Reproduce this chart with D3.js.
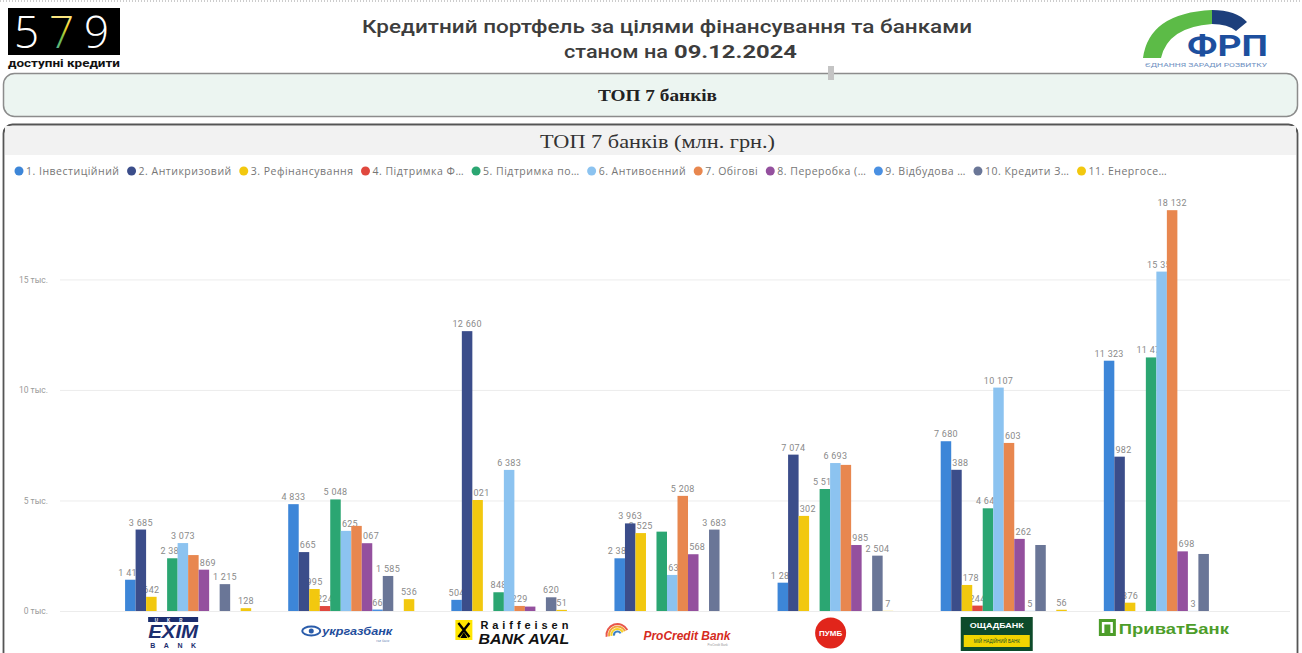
<!DOCTYPE html>
<html><head><meta charset="utf-8">
<script src="https://cdn.jsdelivr.net/npm/d3@7"></script>
<style>html,body{margin:0;padding:0;background:#fff;} svg{display:block;font-family:"Open Sans",Roboto,sans-serif}</style>
</head><body>
<svg id="c" width="1302" height="653"></svg>
<script>
// ---------- DATA ----------
const banks = ["Укрексімбанк","Укргазбанк","Райффайзен Банк Аваль","ПроКредит Банк","ПУМБ","Ощадбанк","ПриватБанк"];
const seriesNames = ["1. Інвестиційний","2. Антикризовий","3. Рефінансування","4. Підтримка Ф…","5. Підтримка по…","6. Антивоєнний","7. Обігові","8. Переробка (…","9. Відбудова …","10. Кредити З…","11. Енергосе…","12."];
const s1  = [1415, 4833,   504, 2384, 1281,  7680, 11323];
const s2  = [3685, 2665, 12660, 3963, 7074,  6388,  6982];
const s3  = [ 642,  995,  5021, 3525, 4302,  1178,   376];
const s4  = [null,  224,  null, null, null,   244,  null];
const s5  = [2385, 5048,   848, 3590, 5519,  4646, 11471];
const s6  = [3073, 3625,  6383, 1631, 6693, 10107, 15354];
const s7  = [2530, 3850,   229, 5208, 6610,  7603, 18132];
const s8  = [1869, 3067,   200, 2568, 2985,  3262,  2698];
const s9  = [null,   66,  null, null, null,     5,     3];
const s10 = [1215, 1585,   620, 3683, 2504,  2986,  2580];
const s11 = [null, null,    51, null,    7,  null,  null];
const s12 = [ 128,  536,  null, null, null,    56,  null];
const seriesValues = [s1,s2,s3,s4,s5,s6,s7,s8,s9,s10,s11,s12];
const seriesColors = ["#3d86d8","#3b4d8a","#f2c80f","#e0483e","#2ba672","#8cc3f0","#e8874f","#94509e","#4a90e2","#6a7697","#f2c80f","#f2c80f"];
const legendCount = 11;
const yTicks = [0, 5000, 10000, 15000];
const hiddenLabels = [[0,6],[1,6],[2,7],[3,4],[4,6],[5,9],[6,9]]; // [bank, series] labels suppressed by overlap

// ---------- SETUP ----------
const svg = d3.select("#c");
const W = 1302, H = 653;

svg.append("line").attr("x1",0).attr("x2",W).attr("y1",1).attr("y2",1)
  .attr("stroke","#9a9a9a").attr("stroke-dasharray","1,2");

// ---- 579 logo ----
const lg = svg.append("g");
lg.append("rect").attr("x",8).attr("y",8).attr("width",112).attr("height",47).attr("fill","#000");
const grad = svg.append("defs").append("linearGradient").attr("id","g7").attr("x1","0").attr("y1","0").attr("x2","0").attr("y2","1");
grad.append("stop").attr("offset","0").attr("stop-color","#ffffff");
grad.append("stop").attr("offset","0.45").attr("stop-color","#f5d327");
grad.append("stop").attr("offset","0.6").attr("stop-color","#7ac143");
grad.append("stop").attr("offset","1").attr("stop-color","#2aa7df");
[["5",14,"#fff"],["7",49,"url(#g7)"],["9",84,"#fff"]].forEach(([t,xx,f])=>{
  lg.append("text").attr("x",xx).attr("y",48).attr("font-size",44).attr("font-weight",300)
    .attr("font-family","Open Sans").attr("fill",f).text(t);
});
lg.append("text").attr("x",8).attr("y",67).attr("font-size",10).attr("font-weight",700)
  .attr("font-family","Roboto").attr("fill","#111").attr("textLength",112).attr("lengthAdjust","spacingAndGlyphs")
  .text("доступні кредити");

// ---- title ----
svg.append("text").attr("x",362).attr("y",33).attr("font-size",18).attr("font-weight",500)
  .attr("font-family","Roboto").attr("fill","#3d3d3d").attr("textLength",610).attr("lengthAdjust","spacingAndGlyphs")
  .text("Кредитний портфель за цілями фінансування та банками");
svg.append("text").attr("x",564).attr("y",58).attr("font-size",18).attr("font-weight",500)
  .attr("font-family","Roboto").attr("fill","#3d3d3d").attr("textLength",104).attr("lengthAdjust","spacingAndGlyphs")
  .text("станом на");
svg.append("text").attr("x",674).attr("y",58).attr("font-size",18).attr("font-weight",700)
  .attr("font-family","Roboto").attr("fill","#3d3d3d").attr("textLength",123).attr("lengthAdjust","spacingAndGlyphs")
  .text("09.12.2024");

// ---- FRP logo ----
const fg = svg.append("g");
fg.append("path").attr("d","M1143,58 Q1149,13 1212,10 L1212,24 Q1168,27 1161,58 Z").attr("fill","#5cbb47");
fg.append("path").attr("d","M1212,10 Q1236,10 1247,22 L1236,31 Q1228,24 1212,24 Z").attr("fill","#1d3f7c");
fg.append("text").attr("x",1187).attr("y",56).attr("font-size",29).attr("font-weight",700)
  .attr("font-family","Roboto").attr("fill","#1d4f9e").attr("textLength",81).attr("lengthAdjust","spacingAndGlyphs").text("ФРП");
fg.append("text").attr("x",1145).attr("y",67).attr("font-size",5)
  .attr("font-family","Roboto").attr("fill","#6d8fbf").attr("textLength",122).attr("lengthAdjust","spacingAndGlyphs")
  .text("ЄДНАННЯ ЗАРАДИ РОЗВИТКУ");

// ---- top box ----
svg.append("rect").attr("x",3.5).attr("y",73.5).attr("width",1294).attr("height",43).attr("rx",11)
  .attr("fill","#ecf5f1").attr("stroke","#8c8c8c").attr("stroke-width",1.5);
svg.append("rect").attr("x",828).attr("y",66).attr("width",6).attr("height",14).attr("fill","#c4c4c4");
svg.append("text").attr("x",598).attr("y",101).attr("font-size",17).attr("font-weight",700)
  .attr("font-family","Liberation Serif").attr("fill","#222").attr("textLength",119).attr("lengthAdjust","spacingAndGlyphs")
  .text("ТОП 7 банків");

// ---- chart card ----
svg.append("rect").attr("x",3.5).attr("y",124.5).attr("width",1294).attr("height",560).attr("rx",9)
  .attr("fill","#fff").attr("stroke","#555").attr("stroke-width",1.8);
svg.append("rect").attr("x",5).attr("y",126).attr("width",1291).attr("height",29).attr("fill","#f2f2f2");
svg.append("text").attr("x",540).attr("y",148).attr("font-size",19)
  .attr("font-family","Liberation Serif").attr("fill","#333").attr("textLength",235).attr("lengthAdjust","spacingAndGlyphs")
  .text("ТОП 7 банків (млн. грн.)");

// ---- legend ----
const leg = svg.append("g").attr("transform","translate(0,171)");
let lx = 19;
seriesNames.slice(0, legendCount).forEach((n,i)=>{
  leg.append("circle").attr("cx",lx).attr("cy",0).attr("r",4.5).attr("fill",seriesColors[i]);
  const t = leg.append("text").attr("x",lx+7).attr("y",0).attr("dy","0.35em").attr("font-size",10.5)
    .attr("letter-spacing",0.5).attr("font-family","Open Sans").attr("fill","#767676").text(n);
  lx = lx + 7 + t.node().getComputedTextLength() + 12;
});

// ---- scales ----
const x0 = d3.scaleBand().domain(banks).range([106,1249]).paddingInner(0.227).paddingOuter(0.117);
const slots = seriesNames.map((d,i)=>i);
const x1 = d3.scaleBand().domain(slots).range([0, x0.bandwidth()]).padding(0);
const y = d3.scaleLinear().domain([0,19000]).range([611,191]);

// y axis + grid
const yAxis = d3.axisLeft(y).tickValues(yTicks).tickSize(-(1290-60)).tickPadding(12)
  .tickFormat(d => (d/1000) + " тыс.");
const ya = svg.append("g").attr("transform","translate(60,0)").call(yAxis);
ya.select(".domain").remove();
ya.selectAll(".tick line").attr("stroke","#ececec");
ya.selectAll(".tick text").attr("fill","#9a9a9a").attr("font-size",8.5).attr("font-family","Roboto");

// ---- data rows ----
const rows = [];
banks.forEach((b,bi)=>{
  seriesValues.forEach((arr,si)=>{
    const v = arr[bi];
    if (v == null) return;
    rows.push({bank:b, bi, si, v,
      hidden: hiddenLabels.some(h=>h[0]===bi && h[1]===si)});
  });
});
const fmt = v => d3.format(",")(v).replace(/,/g, "\u00a0");

// labels first (bars drawn over them, as in the reference)
svg.append("g").selectAll("text").data(rows.filter(r=>!r.hidden)).join("text")
  .attr("x", r => x0(r.bank) + x1(r.si) + x1.bandwidth()/2)
  .attr("y", r => y(r.v) - 4)
  .attr("text-anchor","middle").attr("font-size",9).attr("font-family","Roboto")
  .attr("letter-spacing",0.3).attr("fill","#8a8a8a")
  .text(r => fmt(r.v));

svg.append("g").selectAll("rect").data(rows).join("rect")
  .attr("x", r => x0(r.bank) + x1(r.si))
  .attr("width", x1.bandwidth())
  .attr("y", r => y(r.v))
  .attr("height", r => y(0) - y(r.v))
  .attr("fill", r => seriesColors[r.si]);

// ---- x axis with bank logos ----
const xAxis = d3.axisBottom(x0).tickSize(0).tickFormat("");
const xa = svg.append("g").attr("transform","translate(0,611)").call(xAxis);
xa.select(".domain").remove();
xa.attr("text-anchor","start").attr("font-family",null).attr("font-size",null);

const logos = {
  "Укрексімбанк": (g)=>{ const cx=-15;
    g.append("rect").attr("x",cx-25).attr("y",6).attr("width",50).attr("height",5).attr("fill","#1c2e6e");
    g.append("text").attr("x",cx).attr("y",10.5).attr("text-anchor","middle").attr("font-size",4.5).attr("font-weight",700)
      .attr("font-family","Liberation Sans").attr("fill","#fff").attr("letter-spacing",9).text("UKR");
    g.append("text").attr("x",cx-25).attr("y",27).attr("font-size",19).attr("font-weight",700).attr("font-style","italic")
      .attr("font-family","Liberation Sans").attr("fill","#1c2e6e").attr("textLength",50).attr("lengthAdjust","spacingAndGlyphs").text("EXIM");
    g.append("text").attr("x",cx-23).attr("y",37).attr("font-size",7).attr("font-weight",700)
      .attr("font-family","Liberation Sans").attr("fill","#1c2e6e").attr("textLength",46).attr("lengthAdjust","spacing").text("BANK");
  },
  "Укргазбанк": (g)=>{ const cx=-5;
    g.append("ellipse").attr("cx",cx-35).attr("cy",20).attr("rx",9).attr("ry",4.5).attr("fill","none").attr("stroke","#2a5caa").attr("stroke-width",2);
    g.append("circle").attr("cx",cx-35).attr("cy",20).attr("r",2.5).attr("fill","#2a5caa");
    g.append("text").attr("x",cx-24).attr("y",24).attr("font-size",11.5).attr("font-weight",700).attr("font-style","italic")
      .attr("font-family","Liberation Sans").attr("fill","#1f4e9c").attr("textLength",70).attr("lengthAdjust","spacingAndGlyphs").text("укргазбанк");
    g.append("text").attr("x",cx+30).attr("y",31).attr("font-size",3.5).attr("font-family","Liberation Sans").attr("fill","#6d86b5").text("газ банк");
  },
  "Райффайзен Банк Аваль": (g)=>{ const cx=-2;
    g.append("rect").attr("x",cx-57).attr("y",9).attr("width",17).attr("height",20).attr("fill","#ffe600");
    g.append("path").attr("d",`M${cx-54},${12} L${cx-43},${26} M${cx-43},${12} L${cx-54},${26}`).attr("stroke","#000").attr("stroke-width",2.4);
    g.append("path").attr("d",`M${cx-52},${27} L${cx-48.5},${21} L${cx-45},${27} Z`).attr("fill","#000");
    g.append("text").attr("x",cx-32).attr("y",18).attr("font-size",11).attr("font-weight",700)
      .attr("font-family","Liberation Sans").attr("fill","#111").attr("textLength",88).attr("lengthAdjust","spacing").text("Raiffeisen");
    g.append("text").attr("x",cx-34).attr("y",33).attr("font-size",14.5).attr("font-weight",700).attr("font-style","italic")
      .attr("font-family","Liberation Sans").attr("fill","#111").attr("textLength",91).attr("lengthAdjust","spacingAndGlyphs").text("BANK AVAL");
  },
  "ПроКредит Банк": (g)=>{ const cx=-10;
    const arc = d3.arc();
    const cols=["#e8574a","#f2a33a","#f5d327","#3b7fc4"];
    [12,9.5,7,4.5].forEach((r,i)=>{
      g.append("path").attr("transform",`translate(${cx-50},24)`)
        .attr("d",arc({innerRadius:r-2,outerRadius:r,startAngle:-Math.PI*0.55,endAngle:Math.PI*0.35}))
        .attr("fill",cols[i]);
    });
    g.append("text").attr("x",cx-24).attr("y",29).attr("font-size",13).attr("font-weight",700).attr("font-style","italic")
      .attr("font-family","Liberation Sans").attr("fill","#d52b1e").attr("textLength",87).attr("lengthAdjust","spacingAndGlyphs").text("ProCredit Bank");
    g.append("text").attr("x",cx+40).attr("y",35).attr("font-size",3).attr("font-family","Liberation Sans").attr("fill","#999").text("ProCredit Bank");
  },
  "ПУМБ": (g)=>{ const cx=-10;
    g.append("circle").attr("cx",cx).attr("cy",22).attr("r",15.5).attr("fill","#e1251b");
    g.append("text").attr("x",cx).attr("y",25).attr("text-anchor","middle").attr("font-size",8).attr("font-weight",700)
      .attr("font-family","Liberation Sans").attr("fill","#fff").text("ПУМБ");
  },
  "Ощадбанк": (g)=>{ const cx=-7;
    g.append("rect").attr("x",cx-36).attr("y",6).attr("width",72).attr("height",34).attr("fill","#0d4a2a");
    g.append("text").attr("x",cx).attr("y",17).attr("text-anchor","middle").attr("font-size",8).attr("font-weight",700)
      .attr("font-family","Liberation Sans").attr("fill","#fff").attr("textLength",54).attr("lengthAdjust","spacingAndGlyphs").text("ОЩАДБАНК");
    g.append("rect").attr("x",cx-33).attr("y",24).attr("width",66).attr("height",12).attr("fill","#f1d400");
    g.append("text").attr("x",cx).attr("y",32).attr("text-anchor","middle").attr("font-size",4.5)
      .attr("font-family","Liberation Sans").attr("fill","#0d4a2a").text("МІЙ НАДІЙНИЙ БАНК");
  },
  "ПриватБанк": (g)=>{ const cx=-3;
    g.append("rect").attr("x",cx-65).attr("y",8).attr("width",17).attr("height",17).attr("fill","#4d9d2a");
    g.append("rect").attr("x",cx-62).attr("y",11).attr("width",11).attr("height",11).attr("fill","#fff");
    g.append("rect").attr("x",cx-59.5).attr("y",13.5).attr("width",6).attr("height",8.5).attr("fill","#4d9d2a");
    g.append("text").attr("x",cx-45).attr("y",23).attr("font-size",15).attr("font-weight",700)
      .attr("font-family","Liberation Sans").attr("fill","#4d9d2a").attr("textLength",110).attr("lengthAdjust","spacingAndGlyphs").text("ПриватБанк");
  }
};
xa.selectAll(".tick").each(function(d){
  const g = d3.select(this);
  g.select("text").remove();
  if (logos[d]) logos[d](g);
});
</script>
</body></html>
